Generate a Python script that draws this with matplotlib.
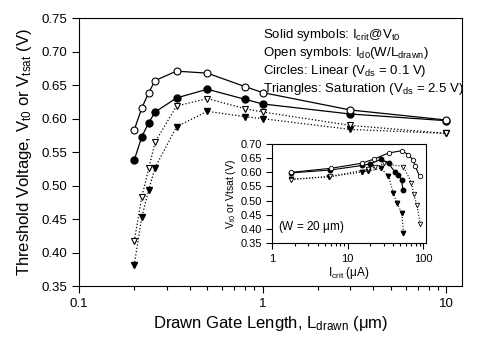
import numpy as np
import matplotlib
matplotlib.use("Agg")
import matplotlib.pyplot as plt

plt.rcParams['font.family'] = ['Liberation Sans', 'DejaVu Sans']
plt.rcParams['mathtext.default'] = 'regular'

# main plot: threshold voltage vs drawn gate length
L_drawn = [0.2, 0.22, 0.24, 0.26, 0.34, 0.5, 0.8, 1.0, 3.0, 10.0]
vt_open_circ = [0.583, 0.616, 0.639, 0.657, 0.671, 0.668, 0.648, 0.639, 0.613, 0.598]
vt_fill_circ = [0.538, 0.573, 0.594, 0.610, 0.631, 0.644, 0.629, 0.622, 0.607, 0.597]
vt_open_tri = [0.417, 0.483, 0.526, 0.565, 0.619, 0.630, 0.615, 0.610, 0.590, 0.578]
vt_fill_tri = [0.381, 0.453, 0.494, 0.527, 0.588, 0.611, 0.603, 0.600, 0.584, 0.578]

# inset: same voltages vs I_crit (W = 20 um)
i_open_circ = [1.8, 6.0, 15.5, 22.5, 35, 52, 64, 73, 79, 90]
v_open_circ = [0.600, 0.614, 0.632, 0.647, 0.668, 0.676, 0.662, 0.645, 0.621, 0.586]
i_fill_circ = [1.8, 5.9, 15.5, 20, 28, 35, 42, 47, 52, 54]
v_fill_circ = [0.598, 0.608, 0.624, 0.630, 0.646, 0.631, 0.602, 0.591, 0.573, 0.538]
i_open_tri = [1.8, 5.9, 18.5, 23, 30, 55, 70, 75, 83, 92]
v_open_tri = [0.574, 0.586, 0.610, 0.618, 0.631, 0.620, 0.564, 0.524, 0.484, 0.417]
i_fill_tri = [1.8, 5.7, 15.4, 18.8, 27.5, 34.7, 40.4, 44.8, 52.3, 55]
v_fill_tri = [0.576, 0.584, 0.601, 0.604, 0.614, 0.587, 0.527, 0.492, 0.456, 0.386]

fig = plt.figure(figsize=(4.81, 3.51), dpi=100)
ax = fig.add_axes([0.164, 0.185, 0.797, 0.763])

ms = 5
ax.plot(L_drawn, vt_fill_tri, ':', color='k', lw=0.9, marker='v', ms=ms, mfc='k', mec='k')
ax.plot(L_drawn, vt_open_tri, ':', color='k', lw=0.9, marker='v', ms=ms, mfc='white', mec='k', mew=0.8)
ax.plot(L_drawn, vt_fill_circ, '-', color='k', lw=0.9, marker='o', ms=ms, mfc='k', mec='k')
ax.plot(L_drawn, vt_open_circ, '-', color='k', lw=0.9, marker='o', ms=ms, mfc='white', mec='k', mew=0.8)

ax.set_xscale('log')
ax.set_xlim(0.1, 12.2)
ax.set_ylim(0.35, 0.75)
ax.set_yticks(np.arange(0.35, 0.751, 0.05))
ax.set_yticklabels(['%.2f' % v for v in np.arange(0.35, 0.751, 0.05)])
ax.set_xticks([0.1, 1, 10])
ax.set_xticklabels(['0.1', '1', '10'])
ax.tick_params(which='major', direction='out', length=5, width=0.8, labelsize=9.5, color='k')
ax.tick_params(which='minor', direction='out', length=3, width=0.8)
ax.set_xlabel('Drawn Gate Length, L$_{drawn}$ ($\\mu$m)', fontsize=12, labelpad=3)
ax.set_ylabel('Threshold Voltage, V$_{t0}$ or V$_{tsat}$ (V)', fontsize=12, labelpad=5)

fs_leg = 9.5
ax.text(0.48, 0.925, 'Solid symbols: I$_{crit}$@V$_{t0}$', transform=ax.transAxes, fontsize=fs_leg)
ax.text(0.48, 0.86, 'Open symbols: I$_{d0}$(W/L$_{drawn}$)', transform=ax.transAxes, fontsize=fs_leg)
ax.text(0.48, 0.79, 'Circles: Linear (V$_{ds}$ = 0.1 V)', transform=ax.transAxes, fontsize=fs_leg)
ax.text(0.48, 0.725, 'Triangles: Saturation (V$_{ds}$ = 2.5 V)', transform=ax.transAxes, fontsize=fs_leg)

# inset
ins = fig.add_axes([0.566, 0.307, 0.320, 0.283])
ms2 = 3.2
ins.plot(i_fill_tri, v_fill_tri, ':', color='k', lw=0.8, marker='v', ms=ms2, mfc='k', mec='k')
ins.plot(i_open_tri, v_open_tri, ':', color='k', lw=0.8, marker='v', ms=ms2, mfc='white', mec='k', mew=0.6)
ins.plot(i_fill_circ, v_fill_circ, '-', color='k', lw=0.8, marker='o', ms=ms2, mfc='k', mec='k')
ins.plot(i_open_circ, v_open_circ, '-', color='k', lw=0.8, marker='o', ms=ms2, mfc='white', mec='k', mew=0.6)
ins.set_xscale('log')
ins.set_xlim(1, 110)
ins.set_ylim(0.35, 0.70)
ins.set_yticks(np.arange(0.35, 0.701, 0.05))
ins.set_yticklabels(['%.2f' % v for v in np.arange(0.35, 0.701, 0.05)])
ins.set_xticks([1, 10, 100])
ins.set_xticklabels(['1', '10', '100'])
ins.tick_params(which='major', direction='out', length=4, width=0.8, labelsize=8)
ins.tick_params(which='minor', direction='out', length=2.5, width=0.8)
ins.set_xlabel('I$_{crit}$ ($\\mu$A)', fontsize=8.5, labelpad=1)
ins.set_ylabel('V$_{t0}$ or Vtsat (V)', fontsize=7.5, labelpad=2)
ins.text(0.04, 0.13, '(W = 20 $\\mu$m)', transform=ins.transAxes, fontsize=8.5)

fig.savefig('out.png', dpi=100)
